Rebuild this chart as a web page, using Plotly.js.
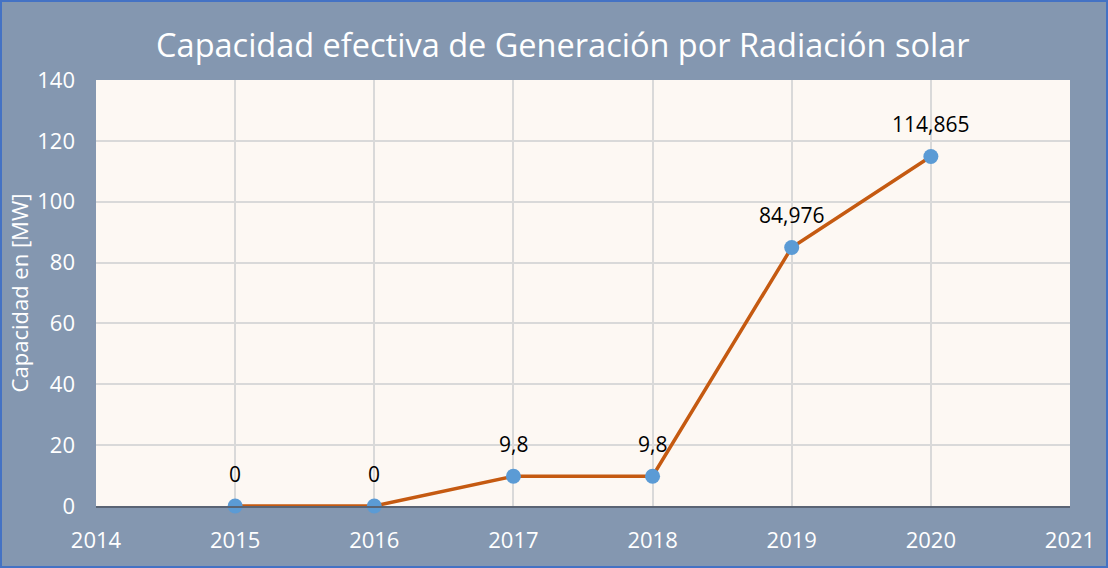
<!DOCTYPE html>
<html><head><meta charset="utf-8">
<script src="https://cdn.plot.ly/plotly-3.0.1.min.js"></script>
<style>html,body{margin:0;padding:0;background:#8497B0;}#c{width:1108px;height:568px;box-sizing:border-box;border:2px solid #4472C4;}</style>
</head><body><div id="c"></div>
<script>
var years = [2015, 2016, 2017, 2018, 2019, 2020];
var capacity = [0, 0, 9.8, 9.8, 84.976, 114.865];
var labels = ["0", "0", "9,8", "9,8", "84,976", "114,865"];
var yTicks = [0, 20, 40, 60, 80, 100, 120, 140];
var xTicks = [2014, 2015, 2016, 2017, 2018, 2019, 2020, 2021];

var trace = {
  x: years, y: capacity,
  mode: 'lines+markers',
  line: {color: '#C55A11', width: 3.5},
  marker: {color: '#5B9BD5', size: 15},
  cliponaxis: false, hoverinfo: 'none'
};
var annotations = years.map(function (yr, i) {
  return {x: yr, y: capacity[i], text: labels[i], showarrow: false, yshift: 32,
          font: {family: 'Open Sans, sans-serif', size: 21, color: '#000000'}};
});
var layout = {
  width: 1104, height: 564,
  margin: {l: 94, r: 36, t: 78, b: 60},
  paper_bgcolor: '#8497B0', plot_bgcolor: '#FDF8F3',
  showlegend: false,
  font: {family: 'Open Sans, sans-serif', color: '#FFFFFF', size: 22},
  title: {text: 'Capacidad efectiva de Generación por Radiación solar', x: 0.508, xanchor: 'center', y: 0.923, yanchor: 'middle',
          font: {size: 32.5, color: '#FFFFFF', family: 'Open Sans, sans-serif'}},
  annotations: annotations,
  xaxis: {range: [2014, 2021], tickvals: xTicks, ticktext: xTicks.map(String), showgrid: true, gridcolor: '#D9D9D9', gridwidth: 2,
          zeroline: false, showline: true, linecolor: '#5A6474', linewidth: 2, ticks: '', ticklabelstandoff: 14,
          tickfont: {size: 22, color: '#FFFFFF'}},
  yaxis: {range: [0, 140], tickvals: yTicks, showgrid: true, gridcolor: '#D9D9D9', gridwidth: 2, zeroline: false,
          ticks: '', tickfont: {size: 22, color: '#FFFFFF'}, ticklabelstandoff: 20,
          title: {text: 'Capacidad en [MW]', font: {size: 22, color: '#FFFFFF'}, standoff: 2}}
};
Plotly.newPlot('c', [trace], layout, {displayModeBar: false, staticPlot: true});
</script></body></html>
